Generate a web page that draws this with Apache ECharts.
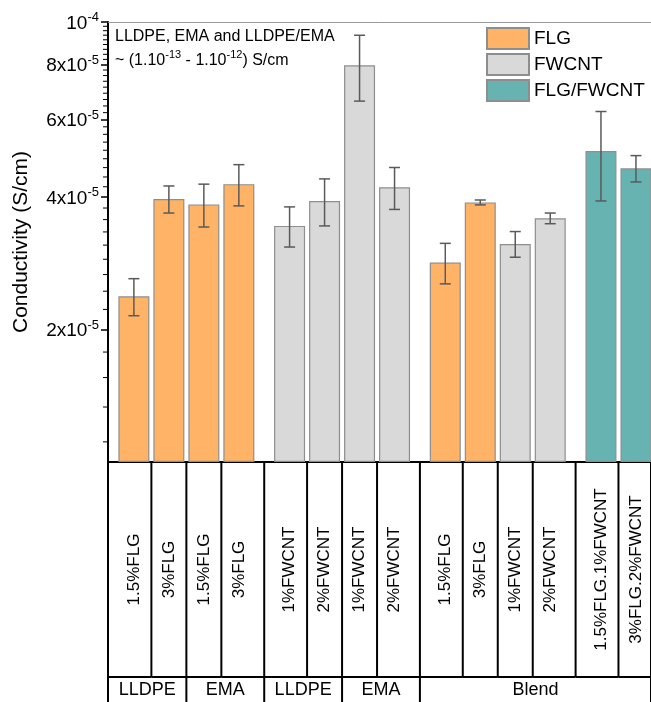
<!DOCTYPE html>
<html><head><meta charset="utf-8">
<script src="https://cdn.jsdelivr.net/npm/echarts@6/dist/echarts.min.js"></script>
<style>html,body{margin:0;padding:0;background:#fff}#c{width:651px;height:702px}</style>
</head><body><div id="c"></div>
<script>
// ---------- data ----------
const categories = ["1.5%FLG","3%FLG","1.5%FLG","3%FLG","1%FWCNT","2%FWCNT","1%FWCNT","2%FWCNT","1.5%FLG","3%FLG","1%FWCNT","2%FWCNT","1.5%FLG.1%FWCNT","3%FLG.2%FWCNT"];
const matrices = ["LLDPE","LLDPE","EMA","EMA","LLDPE","LLDPE","EMA","EMA","Blend","Blend","Blend","Blend","Blend","Blend"];
const fillers = ["FLG","FLG","FLG","FLG","FWCNT","FWCNT","FWCNT","FWCNT","FLG","FLG","FWCNT","FWCNT","FLG/FWCNT","FLG/FWCNT"];
const clusters = [0,0,0,0,1,1,1,1,2,2,2,2,3,3];
const conductivity = [2.38e-5,3.96e-5,3.85e-5,4.28e-5,3.44e-5,3.92e-5,7.97e-5,4.21e-5,2.84e-5,3.89e-5,3.13e-5,3.58e-5,5.09e-5,4.65e-5];
const errors = [0.23e-5,0.28e-5,0.43e-5,0.46e-5,0.36e-5,0.48e-5,1.36e-5,0.46e-5,0.30e-5,0.05e-5,0.21e-5,0.10e-5,1.17e-5,0.32e-5];
const seriesNames = ["FLG","FWCNT","FLG/FWCNT"];
const seriesColors = ["#FFB366","#D9D9D9","#67B3B2"];
const yMajorTicks = [2e-5,4e-5,6e-5,8e-5,1e-4];
const yMin = 1e-5, yMax = 1e-4;
const annotationLine1 = "LLDPE, EMA and LLDPE/EMA";
const yTitle = "Conductivity (S/cm)";

// ---------- layout helpers ----------
const CLUSTER_GAP = 0.45;
const X_MIN = -0.74, X_MAX = 14.78;
const ROW1 = 215, ROW2 = 25;
const ly = v => Math.log10(v / yMin);
const xs = categories.map((c, i) => i + clusters[i] * CLUSTER_GAP);
const lefts = xs.map((x, i) => i === 0 ? X_MIN : (xs[i - 1] + x) / 2);
const rights = xs.map((x, i) => i === xs.length - 1 ? X_MAX : (x + xs[i + 1]) / 2);

// group runs
const groups = [];
matrices.forEach((m, i) => {
  const g = groups[groups.length - 1];
  if (g && g.name === m && i > 0 && matrices[i - 1] === m) g.end = i;
  else groups.push({ name: m, start: i, end: i });
});

// minor ticks: 8 per major interval (linear subdivision)
const minorTicks = [];
const majorsWithZero = [0].concat(yMajorTicks);
for (let k = 1; k < majorsWithZero.length; k++) {
  const a = majorsWithZero[k - 1], b = majorsWithZero[k];
  for (let j = 1; j <= 8; j++) {
    const v = a + (b - a) * j / 9;
    if (v >= yMin && v <= yMax) minorTicks.push(ly(v));
  }
}
const majorT = yMajorTicks.map(ly);

function fmtTick(val) {
  const v = yMin * Math.pow(10, val);
  const e = Math.floor(Math.log10(v) + 1e-9);
  const m = Math.round(v / Math.pow(10, e));
  return (m === 1 ? '{b|10}' : '{b|' + m + 'x10}') + '{s|' + e + '}';
}

const FONT = 'Liberation Sans, Arial, Helvetica, sans-serif';

const barSeries = seriesNames.map((name, s) => ({
  type: 'bar', name,
  barWidth: 31, barGap: '-100%',
  itemStyle: { color: seriesColors[s], borderColor: '#8e8e8e', borderWidth: 1.2 },
  data: conductivity.map((v, i) => fillers[i] === name ? [xs[i], ly(v)] : null).filter(d => d),
  z: 2
}));

const errSeries = {
  type: 'custom', name: 'err', coordinateSystem: 'cartesian2d', silent: true, z: 5, clip: false,
  encode: { x: 0, y: [1, 2] },
  data: conductivity.map((v, i) => [xs[i], ly(v - errors[i]), ly(v + errors[i])]),
  renderItem(params, api) {
    const x = api.value(0);
    const lo = api.coord([x, api.value(1)]), hi = api.coord([x, api.value(2)]);
    const hw = 5.5, st = { stroke: '#5a5a5a', lineWidth: 1.5 };
    return { type: 'group', children: [
      { type: 'line', shape: { x1: lo[0], y1: lo[1], x2: hi[0], y2: hi[1] }, style: st },
      { type: 'line', shape: { x1: lo[0] - hw, y1: lo[1], x2: lo[0] + hw, y2: lo[1] }, style: st },
      { type: 'line', shape: { x1: hi[0] - hw, y1: hi[1], x2: hi[0] + hw, y2: hi[1] }, style: st }
    ] };
  }
};

const minorTickSeries = {
  type: 'custom', name: 'minor', coordinateSystem: 'cartesian2d', silent: true, z: 7, clip: false,
  encode: { x: 0, y: 1 },
  data: minorTicks.map(t => [X_MIN, t]),
  renderItem(params, api) {
    const p = api.coord([api.value(0), api.value(1)]);
    return { type: 'line', shape: { x1: p[0] - 5, y1: p[1], x2: p[0], y2: p[1] }, style: { stroke: '#000', lineWidth: 1 } };
  }
};

const lineSt = { stroke: '#000', lineWidth: 2 };
const cellSeries = {
  type: 'custom', name: 'cells', coordinateSystem: 'cartesian2d', silent: true, clip: false, z: 6,
  encode: { x: 0, y: 1 },
  data: xs.map((x, i) => [x, 0, lefts[i], rights[i], i]),
  renderItem(params, api) {
    const cx = api.value(0), l = api.value(2), r = api.value(3), i = api.value(4);
    const p = api.coord([cx, 0]);
    const yB = p[1];
    const pl = api.coord([l, 0])[0], pr = api.coord([r, 0])[0];
    const ch = [
      { type: 'line', shape: { x1: pr, y1: yB, x2: pr, y2: yB + ROW1 }, style: lineSt },
      { type: 'line', shape: { x1: pl, y1: yB + ROW1, x2: pr, y2: yB + ROW1 }, style: lineSt },
      { type: 'text', x: p[0], y: yB + ROW1 / 2, rotation: Math.PI / 2,
        style: { text: categories[i], fontSize: 17, fontFamily: FONT, fill: '#000', align: 'center', verticalAlign: 'middle' } }
    ];
    if (i === 0) ch.push({ type: 'line', shape: { x1: pl, y1: yB, x2: pl, y2: yB + ROW1 + ROW2 }, style: lineSt });
    return { type: 'group', children: ch };
  }
};

const groupSeries = {
  type: 'custom', name: 'groups', coordinateSystem: 'cartesian2d', silent: true, clip: false, z: 6,
  encode: { x: 0, y: 1 },
  data: groups.map((g, k) => [(lefts[g.start] + rights[g.end]) / 2, 0, lefts[g.start], rights[g.end], k]),
  renderItem(params, api) {
    const cx = api.value(0), r = api.value(3), k = api.value(4);
    const p = api.coord([cx, 0]);
    const yB = p[1] + ROW1;
    const pr = api.coord([r, 0])[0];
    return { type: 'group', children: [
      { type: 'line', shape: { x1: pr, y1: yB, x2: pr, y2: yB + ROW2 }, style: lineSt },
      { type: 'text', x: p[0], y: yB + 13,
        style: { text: groups[k].name, fontSize: 18, fontFamily: FONT, fill: '#000', align: 'center', verticalAlign: 'middle' } }
    ] };
  }
};

const chart = echarts.init(document.getElementById('c'), null, { renderer: 'canvas' });
chart.setOption({
  animation: false,
  backgroundColor: '#fff',
  textStyle: { fontFamily: FONT },
  grid: { left: 108, right: 0, top: 22, bottom: 240, containLabel: false },
  xAxis: [
    { type: 'value', min: X_MIN, max: X_MAX, position: 'bottom',
      axisLine: { show: true, onZero: false, lineStyle: { color: '#000', width: 2 } },
      axisTick: { show: false }, axisLabel: { show: false }, splitLine: { show: false } },
    { type: 'value', min: X_MIN, max: X_MAX, position: 'top',
      axisLine: { show: true, onZero: false, lineStyle: { color: '#999', width: 1 } },
      axisTick: { show: false }, axisLabel: { show: false }, splitLine: { show: false } }
  ],
  yAxis: [
    { type: 'value', min: 0, max: 1, position: 'left',
      name: yTitle, nameLocation: 'middle', nameGap: 76,
      nameTextStyle: { fontSize: 21, color: '#000', fontFamily: FONT },
      axisLine: { show: true, onZero: false, lineStyle: { color: '#000', width: 2 } },
      axisTick: { show: true, customValues: majorT, length: 7, lineStyle: { color: '#000', width: 1.5 } },
      axisLabel: { show: true, customValues: majorT, margin: 9, formatter: fmtTick,
        rich: {
          b: { fontSize: 19, color: '#000', fontFamily: FONT, verticalAlign: 'bottom', lineHeight: 22 },
          s: { fontSize: 13, color: '#000', fontFamily: FONT, verticalAlign: 'top', lineHeight: 12 }
        } },
      splitLine: { show: false } }
  ],
  legend: {
    data: seriesNames, orient: 'vertical', left: 486, top: 27, padding: 0,
    itemWidth: 42, itemHeight: 21, itemGap: 3, icon: 'rect',
    textStyle: { fontSize: 19, color: '#000', fontFamily: FONT, lineHeight: 21 },
    selectedMode: false
  },
  graphic: [
    { type: 'text', left: 115, top: 29, style: { text: annotationLine1, fontSize: 16, fontFamily: FONT, fill: '#000' } },
    { type: 'text', left: 115, top: 49, style: {
      text: '{b|~ (1.10}{s|-13}{b| - 1.10}{s|-12}{b|) S/cm}',
      rich: {
        b: { fontSize: 16, fontFamily: FONT, fill: '#000', color: '#000', verticalAlign: 'bottom', lineHeight: 20 },
        s: { fontSize: 11, fontFamily: FONT, fill: '#000', color: '#000', verticalAlign: 'top', lineHeight: 11 }
      } } }
  ],
  series: barSeries.concat([errSeries, minorTickSeries, cellSeries, groupSeries])
});
</script>
</body></html>
